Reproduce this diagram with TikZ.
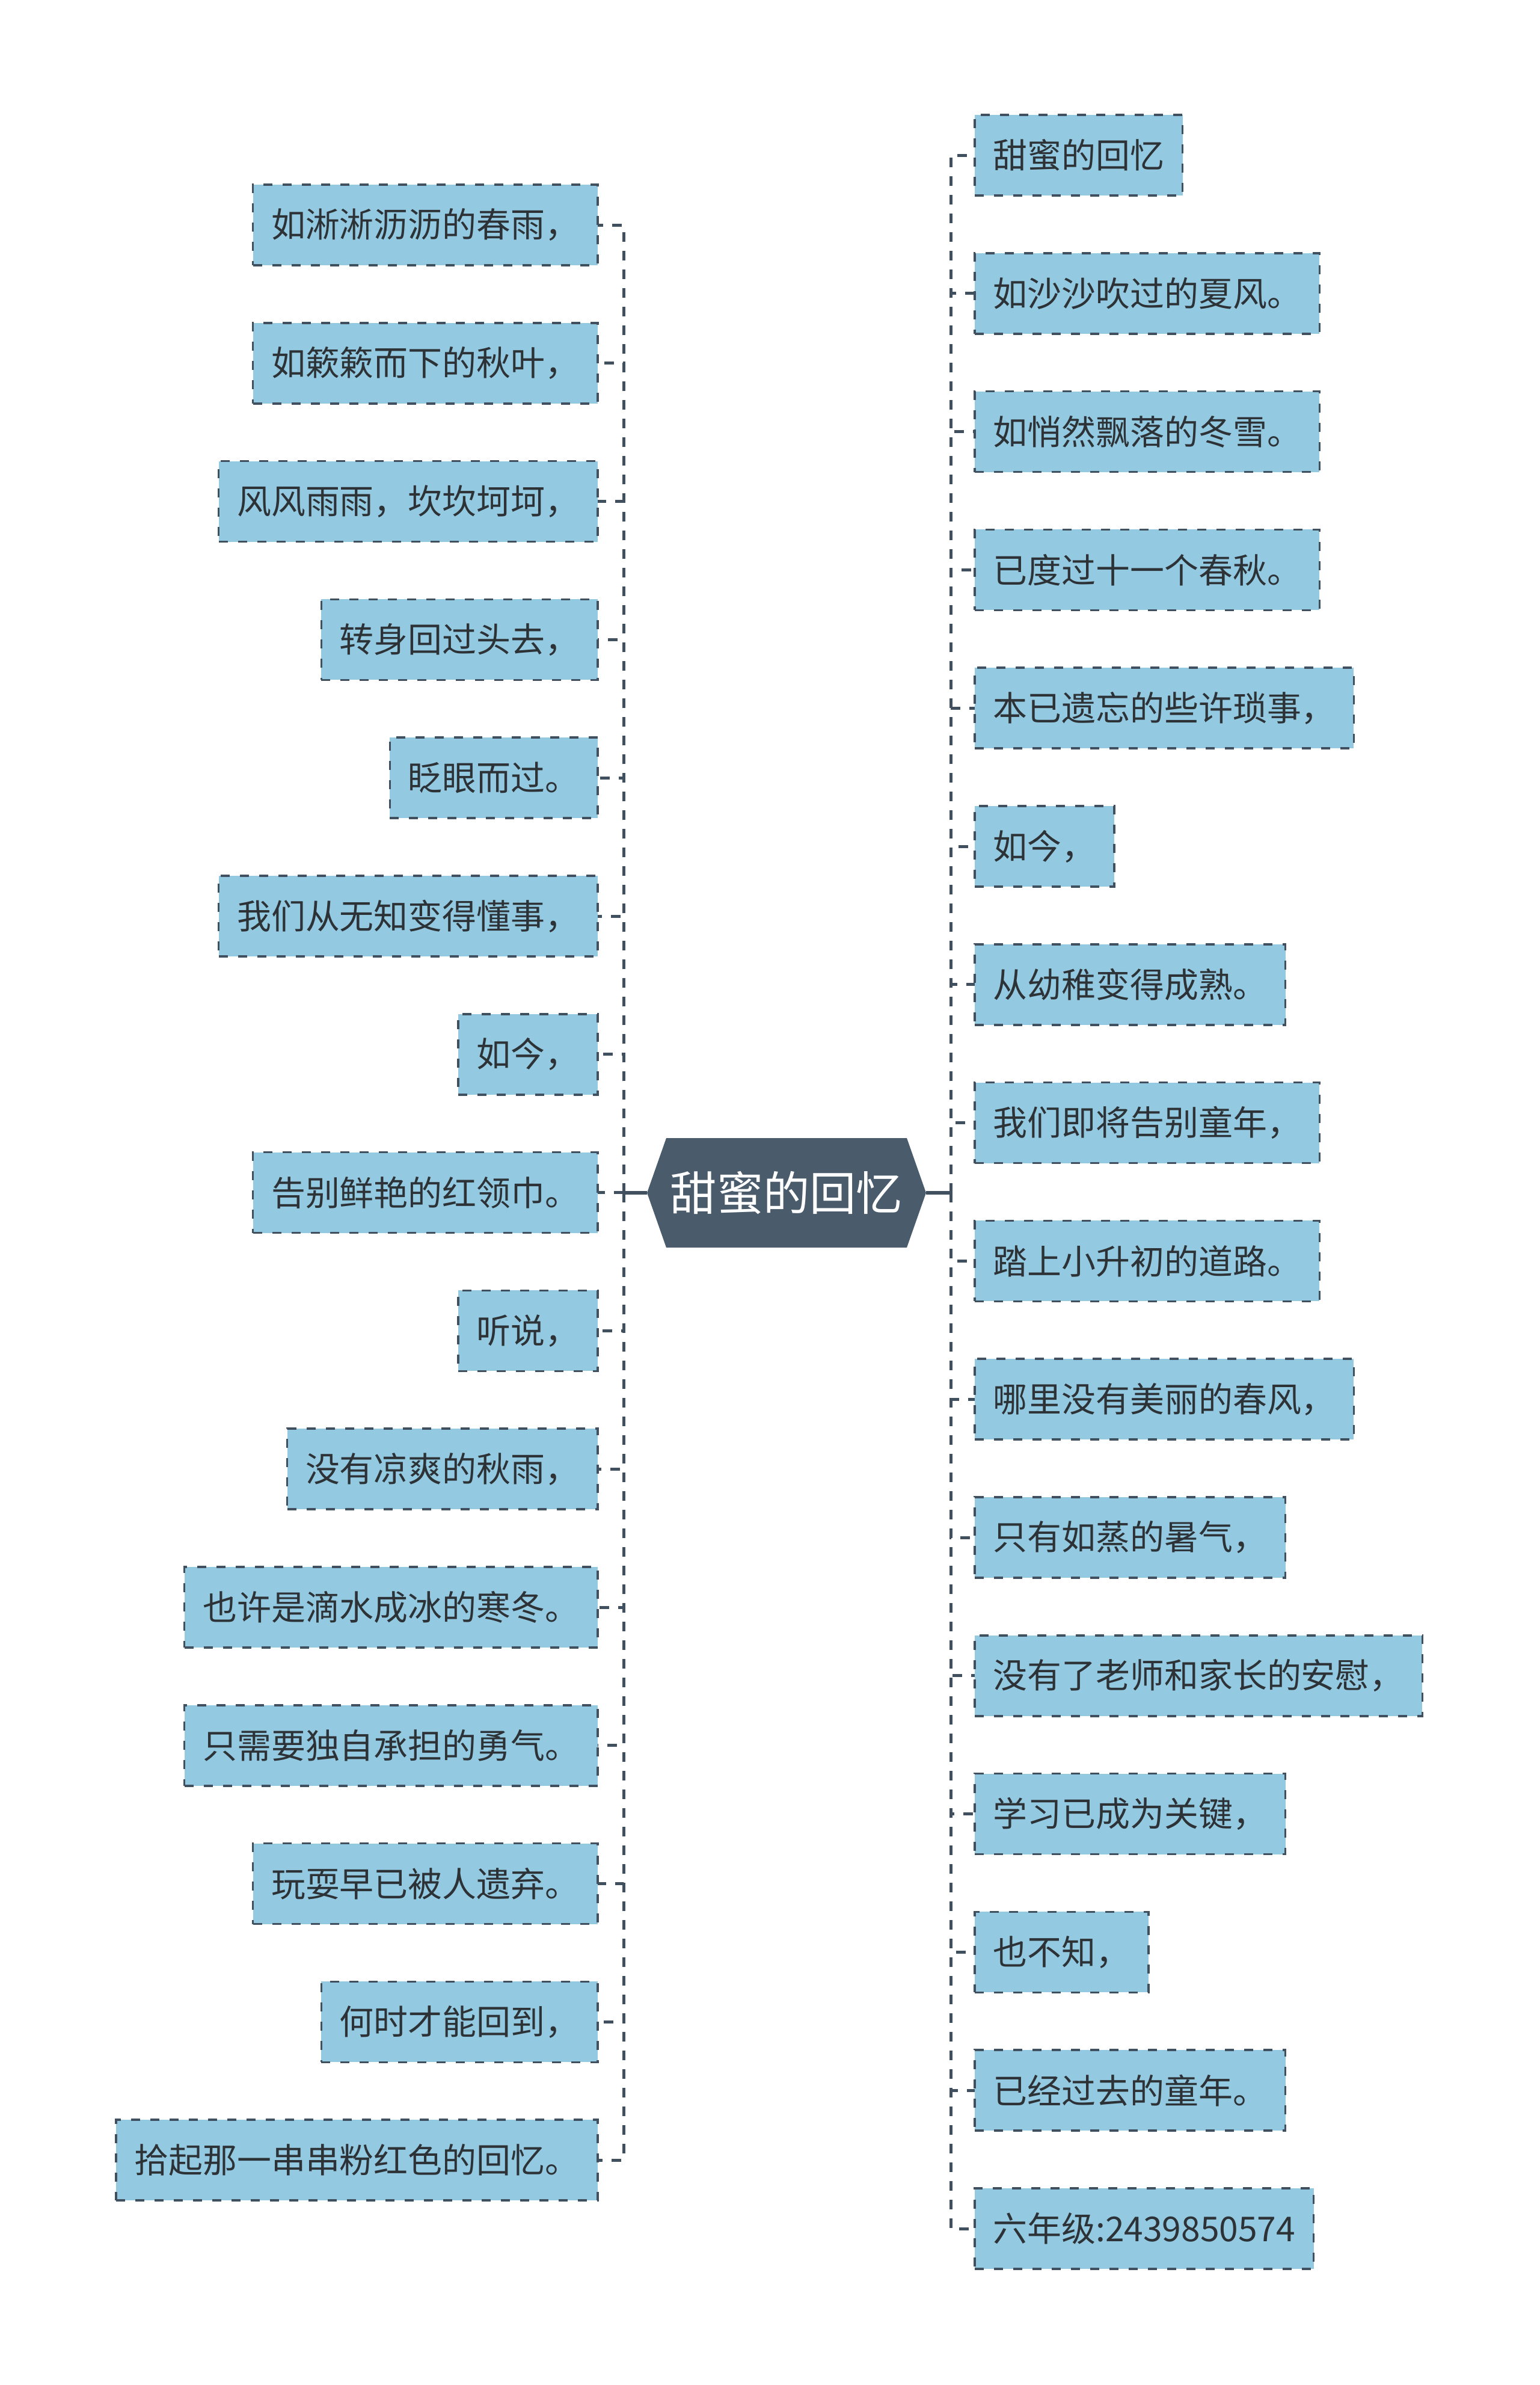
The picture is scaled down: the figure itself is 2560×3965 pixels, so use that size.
\documentclass[tikz,border=0pt]{standalone}
\usepackage{fontspec}
\setmainfont{Noto Sans CJK SC}
\usetikzlibrary{positioning,backgrounds}

\definecolor{slate}{RGB}{74,92,108}
\definecolor{wire}{RGB}{64,80,95}
\definecolor{sky}{RGB}{147,202,226}
\definecolor{ink}{RGB}{45,50,54}

\begin{document}
\begin{tikzpicture}[
  x=0.1mm, y=-0.1mm,
  node distance=9.58mm,
  topic/.style={rectangle, text=white, minimum width=46.4mm, minimum height=18.2mm,
                inner sep=0pt, outer sep=0pt, font=\fontsize{22pt}{26pt}\selectfont},
  leaf/.style={rectangle, draw=wire, fill=sky, text=ink, line width=0.35mm,
               dash pattern=on 1.5mm off 1.7mm, inner xsep=3.05mm, inner ysep=0pt,
               outer sep=0pt, minimum height=13.4mm, font=\fontsize{16.2pt}{19pt}\selectfont},
  trunk/.style={draw=wire, line width=0.55mm},
  twig/.style={draw=wire, line width=0.5mm, dash pattern=on 1.6mm off 1.5mm},
]
\useasboundingbox (0,0) rectangle (2560,3965);

% central topic
\node[topic] (root) at (1308,1983) {甜蜜的回忆};
\begin{scope}[on background layer]
  \fill[white] (0,0) rectangle (2560,3965);
  \fill[slate] (root.west) -- ([xshift=3.2mm]root.north west) -- ([xshift=-3.2mm]root.north east)
    -- (root.east) -- ([xshift=-3.2mm]root.south east) -- ([xshift=3.2mm]root.south west) -- cycle;
\end{scope}

% left column, right-aligned
\node[leaf, anchor=east] (l1) at (994,374) {如淅淅沥沥的春雨，};
\node[leaf, below=of l1.south east, anchor=north east]  (l2)  {如簌簌而下的秋叶，};
\node[leaf, below=of l2.south east, anchor=north east]  (l3)  {风风雨雨，坎坎坷坷，};
\node[leaf, below=of l3.south east, anchor=north east]  (l4)  {转身回过头去，};
\node[leaf, below=of l4.south east, anchor=north east]  (l5)  {眨眼而过。};
\node[leaf, below=of l5.south east, anchor=north east]  (l6)  {我们从无知变得懂事，};
\node[leaf, below=of l6.south east, anchor=north east]  (l7)  {如今，};
\node[leaf, below=of l7.south east, anchor=north east]  (l8)  {告别鲜艳的红领巾。};
\node[leaf, below=of l8.south east, anchor=north east]  (l9)  {听说，};
\node[leaf, below=of l9.south east, anchor=north east]  (l10) {没有凉爽的秋雨，};
\node[leaf, below=of l10.south east, anchor=north east] (l11) {也许是滴水成冰的寒冬。};
\node[leaf, below=of l11.south east, anchor=north east] (l12) {只需要独自承担的勇气。};
\node[leaf, below=of l12.south east, anchor=north east] (l13) {玩耍早已被人遗弃。};
\node[leaf, below=of l13.south east, anchor=north east] (l14) {何时才能回到，};
\node[leaf, below=of l14.south east, anchor=north east] (l15) {拾起那一串串粉红色的回忆。};

% right column, left-aligned
\node[leaf, anchor=west] (r1) at (1621,258) {甜蜜的回忆};
\node[leaf, below=of r1.south west, anchor=north west]  (r2)  {如沙沙吹过的夏风。};
\node[leaf, below=of r2.south west, anchor=north west]  (r3)  {如悄然飘落的冬雪。};
\node[leaf, below=of r3.south west, anchor=north west]  (r4)  {已度过十一个春秋。};
\node[leaf, below=of r4.south west, anchor=north west]  (r5)  {本已遗忘的些许琐事，};
\node[leaf, below=of r5.south west, anchor=north west]  (r6)  {如今，};
\node[leaf, below=of r6.south west, anchor=north west]  (r7)  {从幼稚变得成熟。};
\node[leaf, below=of r7.south west, anchor=north west]  (r8)  {我们即将告别童年，};
\node[leaf, below=of r8.south west, anchor=north west]  (r9)  {踏上小升初的道路。};
\node[leaf, below=of r9.south west, anchor=north west]  (r10) {哪里没有美丽的春风，};
\node[leaf, below=of r10.south west, anchor=north west] (r11) {只有如蒸的暑气，};
\node[leaf, below=of r11.south west, anchor=north west] (r12) {没有了老师和家长的安慰，};
\node[leaf, below=of r12.south west, anchor=north west] (r13) {学习已成为关键，};
\node[leaf, below=of r13.south west, anchor=north west] (r14) {也不知，};
\node[leaf, below=of r14.south west, anchor=north west] (r15) {已经过去的童年。};
\node[leaf, below=of r15.south west, anchor=north west] (r16) {六年级:2439850574};

% junctions
\coordinate (lbus) at (1037,1983);
\coordinate (rbus) at (1581,1983);

\draw[trunk] (root.west) -- (lbus);
\draw[trunk] (root.east) -- (rbus);

\draw[twig] (lbus) |- (l1.east);
\draw[twig] (lbus) |- (l2.east);
\draw[twig] (lbus) |- (l3.east);
\draw[twig] (lbus) |- (l4.east);
\draw[twig] (lbus) |- (l5.east);
\draw[twig] (lbus) |- (l6.east);
\draw[twig] (lbus) |- (l7.east);
\draw[twig] (lbus) |- (l8.east);
\draw[twig] (lbus) |- (l9.east);
\draw[twig] (lbus) |- (l10.east);
\draw[twig] (lbus) |- (l11.east);
\draw[twig] (lbus) |- (l12.east);
\draw[twig] (lbus) |- (l13.east);
\draw[twig] (lbus) |- (l14.east);
\draw[twig] (lbus) |- (l15.east);

\draw[twig] (rbus) |- (r1.west);
\draw[twig] (rbus) |- (r2.west);
\draw[twig] (rbus) |- (r3.west);
\draw[twig] (rbus) |- (r4.west);
\draw[twig] (rbus) |- (r5.west);
\draw[twig] (rbus) |- (r6.west);
\draw[twig] (rbus) |- (r7.west);
\draw[twig] (rbus) |- (r8.west);
\draw[twig] (rbus) |- (r9.west);
\draw[twig] (rbus) |- (r10.west);
\draw[twig] (rbus) |- (r11.west);
\draw[twig] (rbus) |- (r12.west);
\draw[twig] (rbus) |- (r13.west);
\draw[twig] (rbus) |- (r14.west);
\draw[twig] (rbus) |- (r15.west);
\draw[twig] (rbus) |- (r16.west);

\end{tikzpicture}
\end{document}
